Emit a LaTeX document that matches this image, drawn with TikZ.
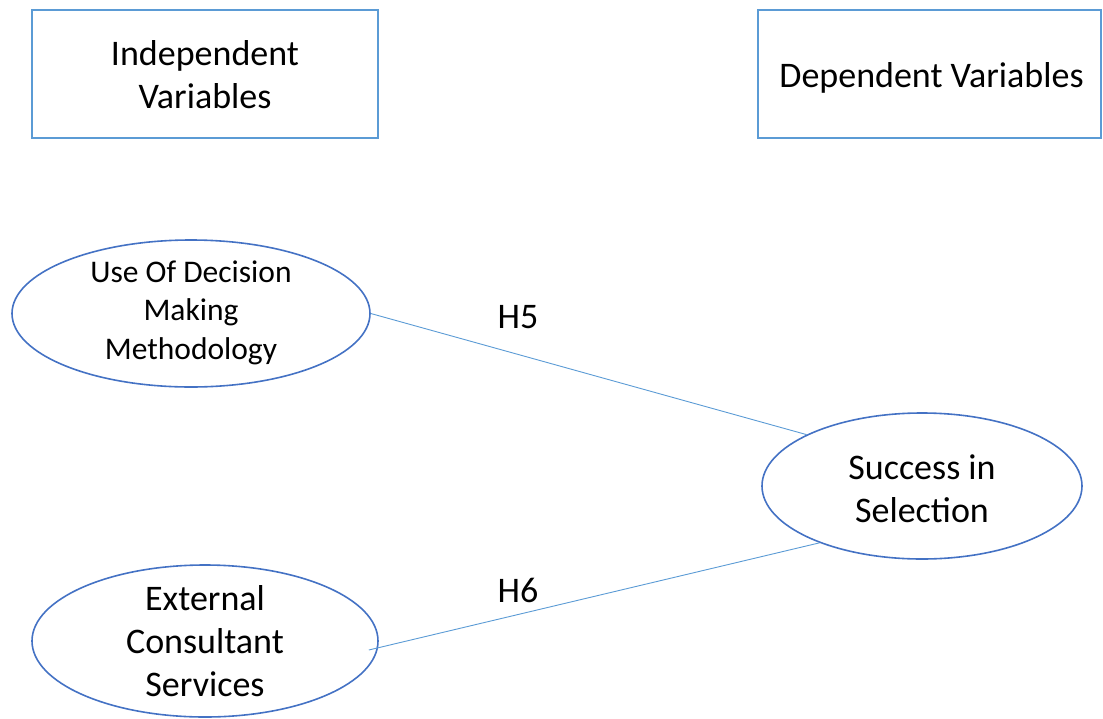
\documentclass[tikz,border=0pt]{standalone}
\usepackage{fontspec}
\setmainfont{Carlito}
\usetikzlibrary{shapes.geometric,calc}
\definecolor{boxblue}{HTML}{5B9BD5}
\definecolor{ovalblue}{HTML}{4472C4}
\definecolor{linkblue}{HTML}{5B9BD5}
\begin{document}
\begin{tikzpicture}[x=1pt,y=-1pt,
  bigtext/.style={font=\fontsize{36}{43}\selectfont,align=center,inner sep=0pt},
  varbox/.style={draw=boxblue,line width=1.8pt,inner sep=0pt},
  construct/.style={draw=ovalblue,ellipse,line width=1.6pt,inner sep=0pt},
  link/.style={draw=linkblue,line width=0.9pt},
  hyp/.style={font=\fontsize{36}{40}\selectfont}]
\useasboundingbox (0,0) rectangle (1103,718);
% header boxes
\node[varbox,minimum width=346pt,minimum height=128pt] (iv) at (205,74) {};
\node[bigtext] (ivt) at ($(iv.center)+(0,1)$) {Independent\\Variables};
\node[varbox,minimum width=343pt,minimum height=128pt] (dv) at (929.5,74) {};
\node[bigtext] (dvt) at ($(dv.center)+(2,4)$) {Dependent Variables};
% constructs
\node[construct,minimum width=358pt,minimum height=147pt] (udm) at (191,313.5) {};
\node[bigtext,font=\fontsize{31.5}{38.5}\selectfont] (udmt) at ($(udm.center)+(0,-1)$)
  {Use Of Decision\\Making\\Methodology};
\node[construct,minimum width=346pt,minimum height=152pt] (ecs) at (205,641) {};
\node[bigtext] (ecst) at (ecs.center) {External\\Consultant\\Services};
\node[construct,minimum width=320pt,minimum height=146pt] (sis) at (922,486) {};
\node[bigtext] (sist) at ($(sis.center)+(0,3)$) {Success in\\Selection};
% hypothesised paths
\draw[link] (udm.east) -- (sis.156.5);
\draw[link] ($(ecs.east)+(-10,9)$) -- (sis.209);
\node[hyp] (h5) at (518,317) {H5};
\node[hyp] (h6) at (518,590) {H6};
\end{tikzpicture}
\end{document}
